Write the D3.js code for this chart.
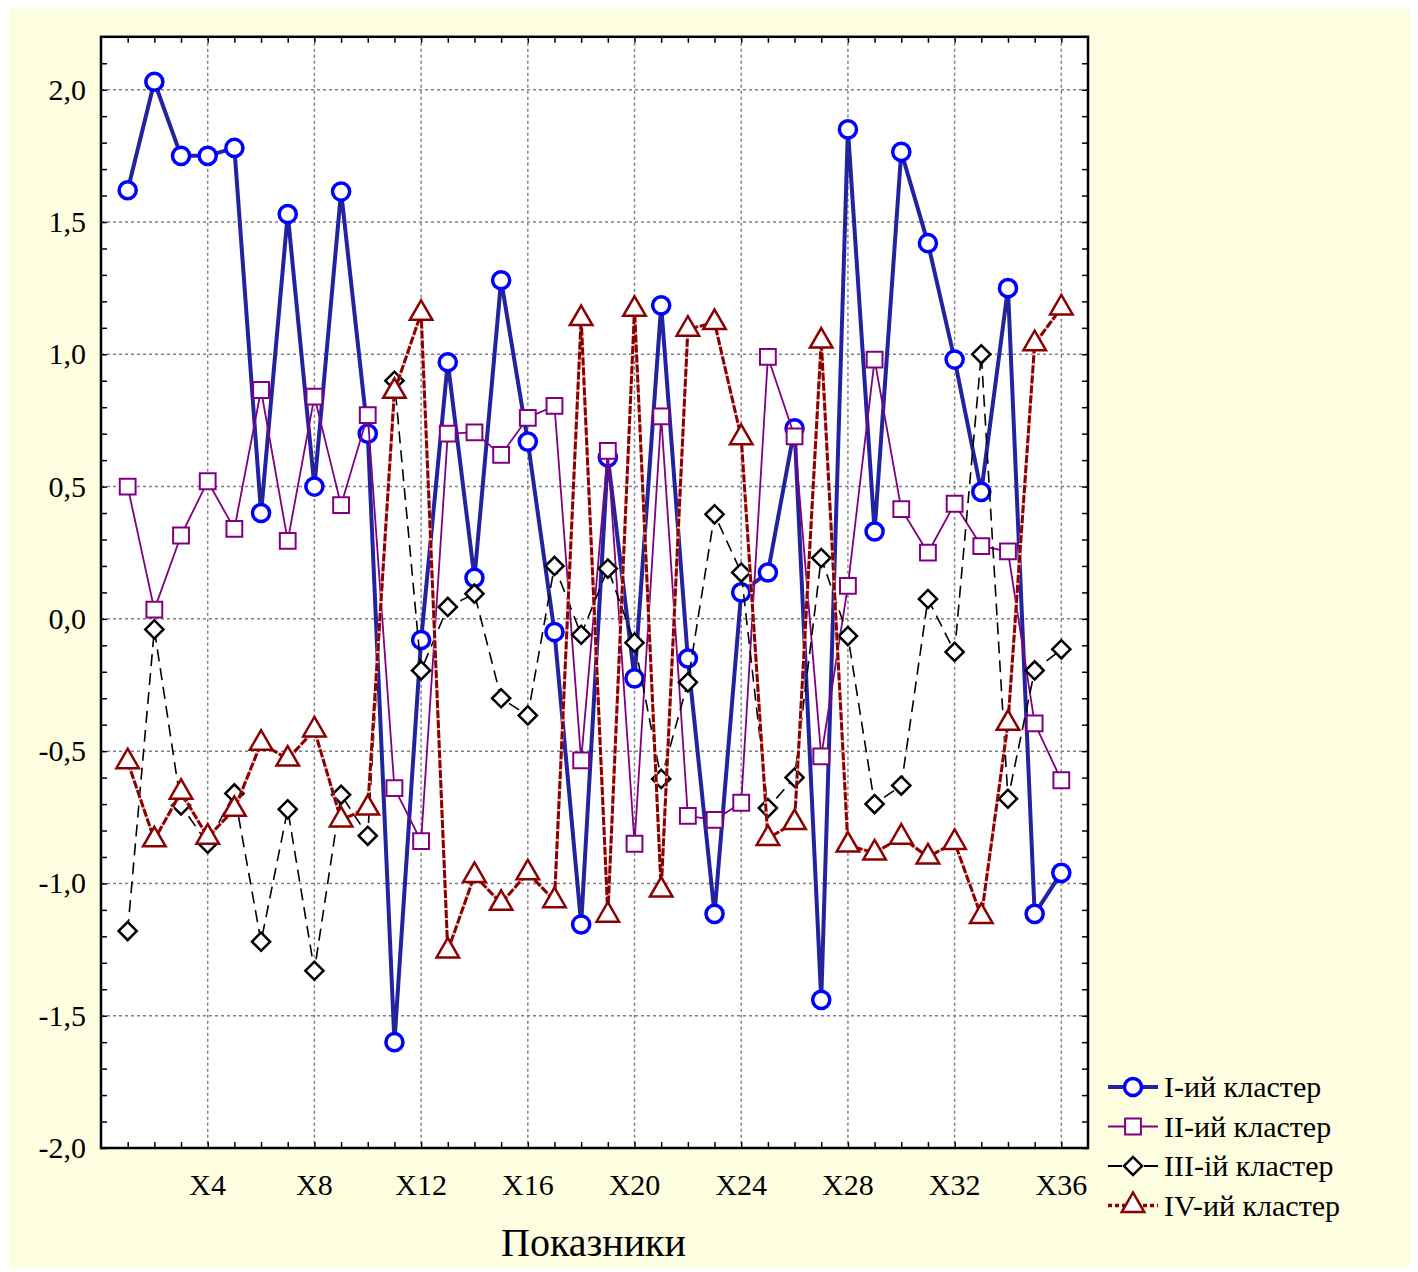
<!DOCTYPE html>
<html><head><meta charset="utf-8">
<script src="https://cdn.jsdelivr.net/npm/d3@7"></script>
<style>body{margin:0;background:#fff}svg{display:block}</style>
</head><body>
<svg id="c" width="1418" height="1272"></svg>
<script>
const categories = d3.range(1, 37).map(i => "X" + i);
const tickLabels = ["X4","X8","X12","X16","X20","X24","X28","X32","X36"];
const yTickLabels = ["-2,0","-1,5","-1,0","-0,5","0,0","0,5","1,0","1,5","2,0"];
const seriesNames = ["I-ий кластер","II-ий кластер","III-ій кластер","IV-ий кластер"];
const cluster1 = [1.62,2.03,1.75,1.75,1.78,0.40,1.53,0.50,1.615,0.70,-1.60,-0.08,0.97,0.155,1.28,0.67,-0.05,-1.155,0.61,-0.225,1.185,-0.15,-1.115,0.10,0.175,0.72,-1.44,1.85,0.33,1.765,1.42,0.98,0.48,1.25,-1.115,-0.96];
const cluster2 = [0.50,0.035,0.315,0.52,0.34,0.865,0.295,0.84,0.43,0.77,-0.64,-0.84,0.70,0.705,0.62,0.76,0.805,-0.535,0.635,-0.85,0.765,-0.745,-0.76,-0.695,0.99,0.69,-0.52,0.125,0.98,0.415,0.25,0.435,0.275,0.255,-0.395,-0.61];
const cluster3 = [-1.18,-0.04,-0.705,-0.85,-0.66,-1.22,-0.72,-1.33,-0.665,-0.82,0.90,-0.195,0.045,0.095,-0.30,-0.365,0.20,-0.06,0.19,-0.09,-0.605,-0.24,0.395,0.175,-0.715,-0.60,0.23,-0.065,-0.70,-0.63,0.075,-0.125,1.0,-0.68,-0.195,-0.115];
const cluster4 = [-0.54,-0.835,-0.655,-0.825,-0.72,-0.47,-0.53,-0.42,-0.76,-0.715,0.86,1.155,-1.255,-0.97,-1.075,-0.96,-1.065,1.135,-1.12,1.17,-1.025,1.095,1.12,0.685,-0.83,-0.77,1.05,-0.855,-0.885,-0.825,-0.90,-0.845,-1.125,-0.395,1.04,1.175];

const svg = d3.select("#c");
const L = 101, R = 1088, T = 36.8, B = 1148;
const x = d3.scaleLinear().domain([0, 37]).range([L, R]);
const y = d3.scaleLinear().domain([-2, 2.2]).range([B, T]);
const font = "'Liberation Serif','Times New Roman',serif";

svg.append("rect").attr("x", 9).attr("y", 8).attr("width", 1401).attr("height", 1260).attr("fill", "#fdfde0");
svg.append("rect").attr("x", L).attr("y", T).attr("width", R - L).attr("height", B - T).attr("fill", "#fff");

// grid
const gridX = d3.range(4, 37, 4);
svg.append("g").selectAll("line").data(gridX).join("line")
  .attr("x1", d => x(d)).attr("x2", d => x(d)).attr("y1", T).attr("y2", B)
  .attr("stroke", "#808080").attr("stroke-width", 1.5).attr("stroke-dasharray", "3,3");
const gridY = d3.range(-1.5, 2.01, 0.5);
svg.append("g").selectAll("line").data(gridY).join("line")
  .attr("y1", d => y(d)).attr("y2", d => y(d)).attr("x1", L).attr("x2", R)
  .attr("stroke", "#808080").attr("stroke-width", 1.5).attr("stroke-dasharray", "3,3");

// axes with inward ticks
const xt = d3.range(1, 37);
const yt = d3.range(-20, 22).map(d => d / 10);
const axB = d3.axisTop(x).tickValues(xt).tickSize(6).tickFormat("");
const axT = d3.axisBottom(x).tickValues(xt).tickSize(6).tickFormat("");
const axL = d3.axisRight(y).tickValues(yt).tickSize(6).tickFormat("");
const axR = d3.axisLeft(y).tickValues(yt).tickSize(6).tickFormat("");
[[axB, `translate(0,${B})`], [axT, `translate(0,${T})`], [axL, `translate(${L},0)`], [axR, `translate(${R},0)`]].forEach(([a, t]) => {
  const g = svg.append("g").attr("transform", t).call(a);
  g.select(".domain").remove();
  g.selectAll("line").attr("stroke", "#000").attr("stroke-width", 1.5);
});
svg.append("rect").attr("x", L).attr("y", T).attr("width", R - L).attr("height", B - T)
  .attr("fill", "none").attr("stroke", "#000").attr("stroke-width", 2.5);

// tick labels
svg.append("g").selectAll("text").data(tickLabels).join("text")
  .attr("x", (d, i) => x(gridX[i])).attr("y", 1195).attr("text-anchor", "middle")
  .attr("font-family", font).attr("font-size", 30).text(d => d);
const yVals = d3.range(-2, 2.01, 0.5);
svg.append("g").selectAll("text").data(yTickLabels).join("text")
  .attr("x", 86).attr("y", (d, i) => y(yVals[i]) + 10).attr("text-anchor", "end")
  .attr("font-family", font).attr("font-size", 30).text(d => d);
svg.append("text").attr("x", (L + R) / 2 - 1).attr("y", 1256).attr("text-anchor", "middle")
  .attr("font-family", font).attr("font-size", 40).text("Показники");

const idx = d3.range(1, 37);
const line = d3.line().x(d => x(d[0])).y(d => y(d[1]));
const pts = arr => arr.map((v, i) => [idx[i], v]);

const sym = {
  circle: d3.symbol().type(d3.symbolCircle).size(230),
  square: d3.symbol().type(d3.symbolSquare).size(250),
  diamond: d3.symbol().type(d3.symbolSquare).size(165),
  triangle: d3.symbol().type(d3.symbolTriangle).size(220)
};

function drawLine(g, data, s) {
  if (s.under) g.append("path").attr("d", line(data)).attr("fill", "none").attr("stroke", s.under).attr("stroke-width", s.w);
  g.append("path").attr("d", line(data)).attr("fill", "none").attr("stroke", s.line)
    .attr("stroke-width", s.w).attr("stroke-dasharray", s.dash || null).attr("stroke-linejoin", "round");
}
function drawMarkers(g, data, s) {
  g.selectAll("path.m").data(data).join("path").attr("class", "m")
    .attr("d", sym[s.sym]())
    .attr("transform", d => `translate(${x(d[0])},${y(d[1])})` + (s.sym === "diamond" ? " rotate(45)" : ""))
    .attr("fill", "#fff").attr("stroke", s.mk).attr("stroke-width", s.mw);
}
const styles = [
  {line: "#2323a0", w: 4, mk: "#0000ff", mw: 3.5, sym: "circle"},
  {line: "#800080", w: 1.8, mk: "#800080", mw: 2, sym: "square"},
  {line: "#000", w: 1.6, dash: "12,7", mk: "#000", mw: 2.5, sym: "diamond"},
  {line: "#8b0000", w: 3, dash: "8,2", under: "#e6c4c4", mk: "#8b0000", mw: 2.5, sym: "triangle"}
];
const allData = [cluster1, cluster2, cluster3, cluster4];
allData.forEach((arr, k) => {
  const g = svg.append("g");
  drawLine(g, pts(arr), styles[k]);
  drawMarkers(g, pts(arr), styles[k]);
});

// legend
const lg = svg.append("g");
seriesNames.forEach((n, k) => {
  const yy = 1087 + k * 39.5;
  const s = styles[k];
  const ld = k === 3 ? "4,3" : (k === 2 ? "14,4" : null);
  lg.append("line").attr("x1", 1108).attr("x2", 1158).attr("y1", yy).attr("y2", yy)
    .attr("stroke", s.line).attr("stroke-width", k === 0 ? 4 : (k === 3 ? 3.5 : 1.8)).attr("stroke-dasharray", ld);
  lg.append("path").attr("d", sym[s.sym]())
    .attr("transform", `translate(1133,${yy})` + (s.sym === "diamond" ? " rotate(45)" : ""))
    .attr("fill", "#fff").attr("stroke", s.mk).attr("stroke-width", s.mw);
  lg.append("text").attr("x", 1164).attr("y", yy + 10).attr("font-family", font).attr("font-size", 30).text(n);
});
</script>
</body></html>
